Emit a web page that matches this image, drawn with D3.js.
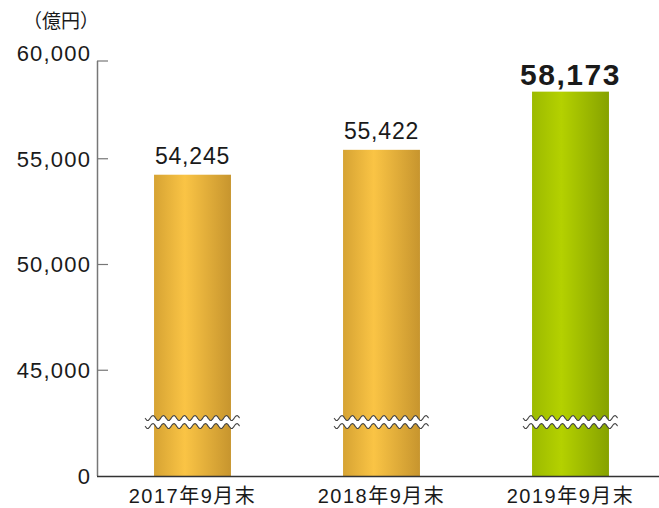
<!DOCTYPE html>
<html><head><meta charset="utf-8">
<script src="https://cdn.jsdelivr.net/npm/d3@7"></script>
<style>body{margin:0;background:#fff}text{font-family:"Liberation Sans","Noto Sans CJK JP",sans-serif;fill:#1a1a1a}</style>
</head><body><svg id="c" width="659" height="508"></svg>
<script>
const categories = ["2017年9月末","2018年9月末","2019年9月末"];
const values = [54245, 55422, 58173];
const valueLabels = ["54,245","55,422","58,173"];
const tickValues = [40000, 45000, 50000, 55000, 60000];
const tickLabels = ["0","45,000","50,000","55,000","60,000"];
const unitLabel = "（億円）";
const breakValue = 42550;

const svg = d3.select("#c");
const W = 659, H = 508;
const y = d3.scaleLinear().domain([40000, 60000]).range([476, 53]);
const x = d3.scaleBand().domain(categories).range([98, 665]).paddingInner(0.593).paddingOuter(0.2965);

const defs = svg.append("defs");
function grad(id, stops){
  const g = defs.append("linearGradient").attr("id", id).attr("x1","0%").attr("x2","100%");
  stops.forEach(s => g.append("stop").attr("offset", s[0]).attr("stop-color", s[1]));
}
grad("gold", [["0%","#d6a333"],["40%","#fac445"],["100%","#c7952e"]]);
grad("green", [["0%","#9cba00"],["38%","#b4d100"],["100%","#86a200"]]);

// bars
svg.selectAll("rect.bar").data(values).enter().append("rect")
  .attr("x", (d,i) => x(categories[i]))
  .attr("width", x.bandwidth())
  .attr("y", d => y(d))
  .attr("height", d => y(40000) - y(d))
  .attr("fill", (d,i) => i === 2 ? "url(#green)" : "url(#gold)");

// breaks
const by = y(breakValue);
values.forEach((d,i) => {
  const x0 = x(categories[i]) - 9, x1 = x(categories[i]) + x.bandwidth() + 9;
  const period = 10.5, amp = 2.5;
  const pts = [];
  for (let t = x0; t <= x1 + 0.01; t += 0.5) pts.push([t, Math.sin((t - x0) / period * 2 * Math.PI) * amp]);
  const line = d3.line().curve(d3.curveBasis);
  const top = pts.map(p => [p[0], by - 4 + p[1]]);
  const bot = pts.map(p => [p[0], by + 4 + p[1]]);
  svg.append("path").attr("d", line(top.concat(bot.slice().reverse())) + "Z").attr("fill", "#fff");
  svg.append("path").attr("d", line(top)).attr("fill","none").attr("stroke","#444").attr("stroke-width",1.1);
  svg.append("path").attr("d", line(bot)).attr("fill","none").attr("stroke","#444").attr("stroke-width",1.1);
});

// value labels
svg.selectAll("text.val").data(values).enter().append("text")
  .attr("x", (d,i) => x(categories[i]) + x.bandwidth()/2)
  .attr("y", (d,i) => y(d) - (i === 2 ? 7 : 11))
  .attr("text-anchor", "middle")
  .attr("font-size", (d,i) => i === 2 ? 30 : 23)
  .attr("letter-spacing", (d,i) => i === 2 ? 1.5 : 0.8)
  .attr("font-weight", (d,i) => i === 2 ? "bold" : "normal")
  .text((d,i) => valueLabels[i]);

// y axis
const axisTop = y(60000) + 8;
svg.append("line").attr("x1",97.5).attr("x2",97.5).attr("y1",axisTop).attr("y2",476).attr("stroke","#777").attr("stroke-width",1.5);
tickValues.forEach((v,i) => {
  const ty = v === 60000 ? axisTop : y(v);
  if (v !== 40000) svg.append("line").attr("x1",97).attr("x2",108).attr("y1",ty).attr("y2",ty).attr("stroke","#777").attr("stroke-width",1.2);
  svg.append("text").attr("x", 91.2).attr("y", y(v)).attr("dy","0.36em").attr("text-anchor","end")
    .attr("font-size",22).attr("letter-spacing",1.2).text(tickLabels[i]);
});
// baseline
svg.append("line").attr("x1",97).attr("x2",W).attr("y1",476.5).attr("y2",476.5).attr("stroke","#333").attr("stroke-width",1.5);

// category labels
svg.selectAll("text.cat").data(categories).enter().append("text")
  .attr("x", d => x(d) + x.bandwidth()/2)
  .attr("y", 503)
  .attr("text-anchor","middle")
  .attr("font-size",20)
  .attr("letter-spacing",1.5)
  .text(d => d);

svg.append("text").attr("x", 61).attr("y", 28).attr("text-anchor","middle").attr("font-size",19).text(unitLabel);
</script></body></html>
